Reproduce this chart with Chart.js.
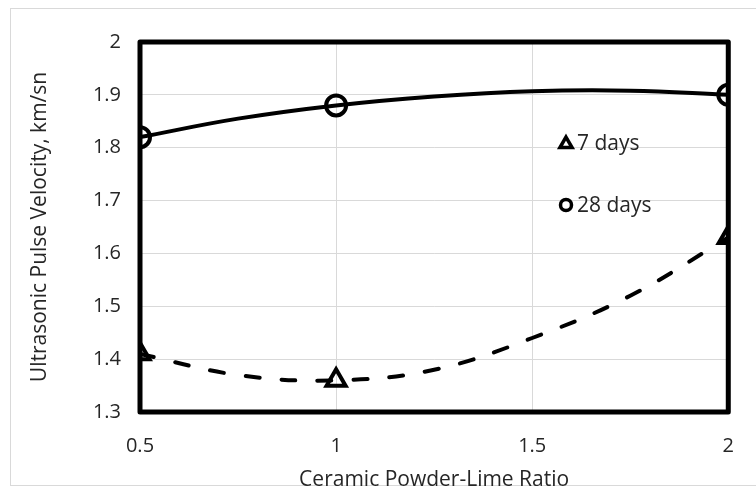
<!DOCTYPE html>
<html>
<head>
<meta charset="utf-8">
<script src="https://cdn.jsdelivr.net/npm/chart.js@4.4.1/dist/chart.umd.min.js"></script>
<style>
  html, body { margin: 0; padding: 0; background: #fff; }
  #wrap { width: 756px; height: 495px; }
</style>
</head>
<body>
<div id="wrap"><canvas id="chart" width="756" height="495"></canvas></div>
<script>
// measured points
const ratios = [0.5, 1, 2];
const days7 = [1.41, 1.36, 1.63];
const days28 = [1.82, 1.88, 1.90];

// trendlines
const trendX = [0.5, 0.75, 1, 1.25, 1.5, 1.75, 2];
const trend7 = [1.41, 1.37, 1.36, 1.38, 1.44, 1.52, 1.63];
const trend28 = [1.82, 1.855, 1.88, 1.897, 1.907, 1.908, 1.90];

const xTicks = [0.5, 1, 1.5, 2];
const yTicks = [1.3, 1.4, 1.5, 1.6, 1.7, 1.8, 1.9, 2];
const legendLabels = ["7 days", "28 days"];

const FONT = "'Open Sans', sans-serif";
const TXT = "#262626";

function pts(xs, ys) {
  return xs.map((x, i) => ({ x: x, y: ys[i] }));
}

const frame = {
  id: "frame",
  beforeDraw(chart) {
    const ctx = chart.ctx;
    ctx.save();
    ctx.fillStyle = "#fff";
    ctx.fillRect(0, 0, chart.width, chart.height);
    ctx.strokeStyle = "#d9d9d9";
    ctx.lineWidth = 1;
    ctx.strokeRect(10.5, 8.5, 800, 477);
    ctx.restore();
  },
  beforeDatasetsDraw(chart) {
    const a = chart.chartArea;
    const ctx = chart.ctx;
    ctx.save();
    ctx.strokeStyle = "#000";
    ctx.lineWidth = 5;
    ctx.lineJoin = "round";
    ctx.strokeRect(a.left, a.top, a.right - a.left, a.bottom - a.top);
    ctx.restore();
  },
  afterDraw(chart) {
    const ctx = chart.ctx;
    ctx.save();
    ctx.strokeStyle = "#000";
    ctx.lineWidth = 3.5;
    // 7 days
    ctx.beginPath();
    const cx = 566, cy = 143, r = 7;
    for (let k = 0; k < 3; k++) {
      const ang = k * 2 * Math.PI / 3;
      const px = cx + Math.sin(ang) * r, py = cy - Math.cos(ang) * r + 1;
      if (k === 0) ctx.moveTo(px, py); else ctx.lineTo(px, py);
    }
    ctx.closePath();
    ctx.stroke();
    // 28 days
    ctx.beginPath();
    ctx.arc(566, 205, 5.5, 0, Math.PI * 2);
    ctx.stroke();
    ctx.fillStyle = TXT;
    ctx.font = "21px " + FONT;
    ctx.textBaseline = "middle";
    ctx.fillText(legendLabels[0], 577, 144);
    ctx.fillText(legendLabels[1], 577, 206);
    ctx.restore();
  }
};

new Chart(document.getElementById("chart"), {
  type: "scatter",
  data: {
    datasets: [
      {
        data: pts(trendX, trend7),
        showLine: true,
        borderColor: "#000",
        borderWidth: 4,
        borderDash: [14, 22],
        borderCapStyle: "round",
        tension: 0.4,
        pointRadius: 0,
        pointHoverRadius: 0
      },
      {
        data: pts(trendX, trend28),
        showLine: true,
        borderColor: "#000",
        borderWidth: 4,
        tension: 0.4,
        pointRadius: 0,
        pointHoverRadius: 0
      },
      {
        label: legendLabels[0],
        data: pts(ratios, days7),
        showLine: false,
        pointStyle: "triangle",
        pointRadius: 11,
        pointBorderWidth: 4,
        pointBorderColor: "#000",
        pointBackgroundColor: "rgba(0,0,0,0)"
      },
      {
        label: legendLabels[1],
        data: pts(ratios, days28),
        showLine: false,
        pointStyle: "circle",
        pointRadius: 10,
        pointBorderWidth: 4,
        pointBorderColor: "#000",
        pointBackgroundColor: "rgba(0,0,0,0)"
      }
    ]
  },
  options: {
    responsive: false,
    animation: false,
    devicePixelRatio: 1,
    layout: { padding: { left: 0, top: 42, right: 20, bottom: 0 } },
    plugins: {
      legend: { display: false },
      tooltip: { enabled: false }
    },
    scales: {
      x: {
        type: "linear",
        min: 0.5,
        max: 2,
        afterBuildTicks: (s) => { s.ticks = xTicks.map(v => ({ value: v })); },
        afterFit: (s) => { s.height = 83; },
        grid: { color: "#d9d9d9", lineWidth: 1, drawTicks: false },
        border: { display: false },
        ticks: {
          padding: 22,
          color: TXT,
          font: { family: FONT, size: 20 },
          callback: (v) => String(v)
        },
        title: {
          display: true,
          text: "Ceramic Powder-Lime Ratio",
          color: TXT,
          font: { family: FONT, size: 21 },
          padding: { top: 0, bottom: 2 }
        }
      },
      y: {
        type: "linear",
        min: 1.3,
        max: 2,
        afterBuildTicks: (s) => { s.ticks = yTicks.map(v => ({ value: v })); },
        afterFit: (s) => { s.width = 140; },
        grid: { color: "#d9d9d9", lineWidth: 1, drawTicks: false },
        border: { display: false },
        ticks: {
          padding: 19,
          color: TXT,
          font: { family: FONT, size: 20 },
          callback: (v) => String(+v.toFixed(1))
        },
        title: {
          display: true,
          text: "Ultrasonic Pulse Velocity, km/sn",
          color: TXT,
          font: { family: FONT, size: 21 },
          padding: { top: 27, bottom: 0 }
        }
      }
    }
  },
  plugins: [frame]
});
</script>
</body>
</html>
